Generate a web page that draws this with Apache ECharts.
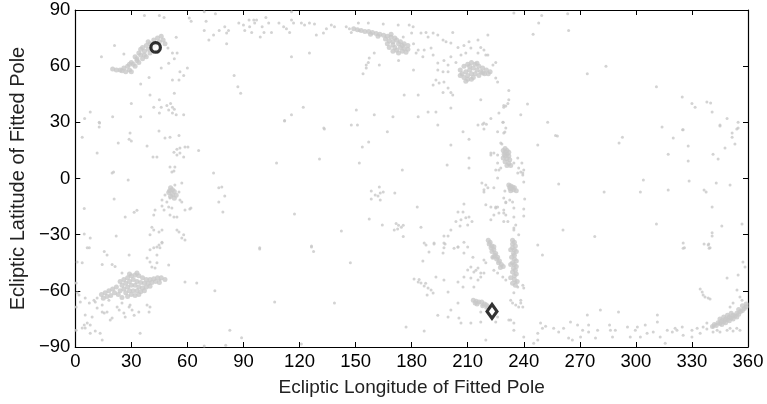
<!DOCTYPE html>
<html>
<head>
<meta charset="utf-8">
<script src="https://cdn.jsdelivr.net/npm/echarts@6/dist/echarts.min.js"></script>
<style>
  html, body { margin: 0; padding: 0; background: #fff; }
  #chart { width: 767px; height: 404px; }
</style>
</head>
<body>
<div id="chart"></div>
<script>
// fitted poles, [longitude, latitude] in degrees
var northPoles = [
  [21,71],[14,65],[26,66.5],[39.5,54],[35,50.5],[46,59],[50,61.5],[53,64],[54.5,67],[54,75.5],[56,57],[60,59],[58,55],[55.5,52.6],[52,52.6],[49.6,69.7],[52,67],
  [53,45.6],[45,42],[46,38],[42,38],[50,36.6],[54,34],[45,35],[58,34],[40,44.6],[35,33],[30,40],[20,33],[13,29.6],[5,32],[8,35.5],[52,38],[51,40],[53,37],[49,39],[52,35],
  [37,87],[45,87],[47.5,86],[61,85.7],[62,84],[69,89],[75,88],[70,84],[69,79],[74,76.6],[77,79],[80,81],[82,79],[81,77.7],[87.5,83],[90,82],[93,84.7],[93.3,81],[95.5,84.7],[96,83],[90.7,79],[94.4,78],[71.5,74],[81,72],[85,55],[87,49],[88.5,45.6],
  [97,84.7],[102,86],[103.5,83],[100,81],[101,78],[99,75.6],[105,78],[109,83],[111.5,81],[113,80],[114.7,78],[115.7,84.7],[116.8,83],[115.7,89],[121,83],[122.7,82],[125.3,83],[128,82.5],[129,76.6],[132.8,77.7],[134.4,80],[137,82],[138.7,81],[145,81],[146.7,80],[147.7,78],[151.5,83],[152,79],[156.8,83],[164.8,82.5],
  [172.8,82],[178.7,82],[180.8,81],[180,77.7],[175.5,75.6],[181,72],[183.5,68.6],[182.4,67],[173,63],[160,67],[157.3,64.4],[156.8,62],[155.7,60.6],[155.7,59],[154,56],[162.7,60.6],[181,58],[115.7,65],[125.3,67],
  [122,38],[115.7,34],[112,31],[150.4,36.6],[160,34],[147.7,28.6],[151,28.6],[133,27],[170,33],[183.5,33],[188.8,35.5],[176,44.6],[183.5,44.6],[193,35.5],[201,37.6],[194,28.6],
  [185,77.7],[187.7,78],[188.8,75.6],[191.5,77.7],[194,76.6],[196.8,74],[198.4,73],[201,72.4],[202,78],[204.8,70],[208,71],[210.7,73],[215.5,74],[220.8,76.6],[217,70],[218.7,68.6],[220.8,66],[225,62],[223.5,60.6],
  [186.7,68.6],[190.4,69.7],[186,65],[191.5,66],[194,61.7],[197.3,63],[199.5,60.6],[201,65],[203.7,62],[206.4,66],[209,67],[211.7,69.7],[215.5,67],[219.7,66],
  [194,58],[196.8,57],[199.5,57],[193,52.6],[194.7,51],[197.3,51.5],[199.5,48.3],[201,46],[191.5,50],[196.8,46],[202,44.6],[217,42],[225,53.7],[226,51.5],
  [232,47],[231.5,40],[229.3,38],[226.7,35],[222.4,32],[218.7,29.6],[215.5,28.6],
  [234.7,88.4],[249.6,87],[248,83],[245,77],[263.5,88],[264,79],[274,56],[284,60],[311,49],[324.8,43.5],[330,40],[331.7,38],[338,40.8],[340,40.3],[340.8,35.5],[348.8,32],[345,28],[354.7,30],[354.7,27],
  [232,42],[230.4,38.7],[242,39.8],[238.4,34],[252.8,30],[229,30],[314,27.5],[325,26],
  [3.7,22],[12.8,27.5],[12.8,30],[11.7,13.6],[19.7,3],[20.5,3.5],[23,19],[29.3,24.3],[28.8,21],[30,20],[38.4,17.4],[44.8,25.4],[41.6,11.5],[43.7,11.5],[48,21.6],[50.7,22],[55.5,23],
  [52.8,14],[54.4,15.6],[56,16.3],[58.7,16.8],[60.3,16.8],[58,11.5],[54.4,12.6],[56,13.6],[66,15],[50.7,6.1],[53.3,6.1],[51.7,3.5],[52.8,4],[74,3],
  [112,30.7],[133.3,26.4],[167,25],[157,19.5],[153.6,16.8],[107.7,8.3],[130.7,10.4],[152,8.3],[175,4.5],
  [201,17.9],[199,7.2],[207.5,25],[210.7,21],[210.7,11],[210.7,5.6],[218,29],[220,29],[218.7,26.4],[226,25],[228.8,30],[222.4,13.6],[226,12.6],[228.3,18.4],[226.7,4.5],[226,0.3],
  [229.3,39],[230.4,27],[229.3,24.3],[229.9,24.8],[227.7,18.9],[224,13.6],[222.4,12.6],[226,8.3],[225,4.5],[227.7,5.6],[234.7,8.3],[237.3,5.6],[238.4,3.5],[239.5,1.9],
  [257,23],[258,22.7],[247.5,17.9],[292.8,22],[291,19],[317.3,13],[320,21.6],[325.3,26],[328,17.4],[328,9.3],[341.3,13],[344,10.4],[345,28.6],[347.7,16.3],[353,18.4],[351.5,24.3],[351.5,22],[354,26.4],
  [236.8,11],[239,8.3],[240,4.5],[236.8,2.9],[239.5,2.9]
];

var southPoles = [
  [28.3,-0.8],[20.8,-11],[4.8,-16],[26.7,-20.6],[31.5,-18],[33,-17],[21.9,-30.7],[4.8,-29.6],[8,-31.8],[7.5,-37],
  [53.3,-3.5],[57,-2.4],[55.5,-7.2],[56,-11.5],[57,-12.6],[48,-8.8],[46.4,-11.5],[49,-12.6],[50.7,-10.4],[50,-15.2],[46.4,-14.7],[51.7,-15.8],[58.7,-16.8],[61.3,-16.3],[61.9,-15.8],
  [42.7,-16.8],[42,-19.5],[47.5,-16.8],[50.7,-19.5],[52.8,-20.6],[54.4,-20.6],
  [41,-26],[42,-27.5],[44.8,-28.6],[46.4,-27.5],[54.4,-27.5],[55.5,-28.6],[58,-30],[57,-31.8],[58.7,-32.8],[40,-30],[43.7,-36.6],[45.3,-37],[46.4,-34.5],
  [76.8,-5],[78.4,-4.5],[80,-9.3],[76.8,-12.6],[79,-17.9],
  [158.4,-6.7],[160.5,-8.8],[162,-9.3],[163.2,-7.7],[164.8,-7.2],[158.4,-11],[163.2,-11.5],[162.7,-4.5],[171,-7.7],[117.3,-19],[157.3,-21.6],[142.4,-28],[164.3,-24.8],
  [171.7,-24],[173,-25],[174.5,-26],[172.5,-27],[175.5,-25],[175.5,-31],[170.7,-27.5],[185,-26],[183,-15.2],[98.7,-37],[126.4,-36.6],
  [224,-5],[218.7,-7.2],[217.6,-2.4],[219.7,-3.5],[219.7,-14],[222.4,-15.2],[225,-15.2],[208,-13.6],[204.8,-17.9],[207.5,-17.9],[203.7,-23],[206.4,-22],[209,-21],[210.7,-20.6],[212.3,-23],
  [201,-27.5],[205.9,-25.4],[210,-24.8],[197.3,-30.7],[199.5,-30.7],[187.7,-35.5],[192,-34.5],[197.9,-35],[204.8,-36.6],[208,-34],[210,-36.6],
  [218.7,-6],[220.8,-5],[229.3,-10.4],[230.4,-12.6],[225,-15.8],[226,-15.2],[224,-19.5],[226.7,-18.4],[229.3,-16.8],[230.4,-19.5],[222.4,-22],[234,-12.6],[234.7,-15.8],[229.3,-23],[234.7,-26.4],
  [223.5,-42],[219.7,-45],[218.7,-50.5],[224,-49],[226,-50.5],[228.8,-52.6],[230.4,-54.2],
  [235.7,-55.3],[236.8,-58],[239.5,-57],[240,-58.5],[234.7,-61],[234,-66.5],[238.4,-65],[237.3,-68.6],
  [213.3,-58],[215.5,-54.2],[217,-52.6],[211.7,-47.3],[214.4,-49],
  [226,-74],[232,-75.6],[234.7,-81],[240,-84.7],[247.5,-82.6],[247.5,-86.3],[245.3,-88],[219.7,-86.3],
  [258.7,-3],[261,-27.5],[278,-31],[247.5,-35.5],[283,-7.2],[302.4,-7.2],[304,-0.8],[311,-24.3],[317.3,-6.2],[328.5,-1.4],[325.3,-34.5],[336.5,-6.2],[337.6,-7.2],[343,-2.4],[350.4,-3.5],
  [340.8,-15.2],[346,-25.4],[356.8,-24.3],[340.8,-29],[340.8,-30.7],[336.5,-35],[339,-35],[339.7,-37],[326,-37],
  [240,-1.9],[240.5,-11],[240,-16.3],[240,-20],[237.3,-30],[234.7,-27.5],[235.7,-24.8],[231.5,-23],[234.7,-20.6],[229.3,-18.4],[230.4,-13],[232.5,-11.5],[229.9,-6.7],
  [1,-44.6],[3.7,-45],[6.4,-37],[15.5,-39],[17,-40.8],[14.4,-46],[19.7,-46],[21.3,-47],[28.8,-40.8],[25,-50.5],[40,-38],[42,-37],[43.7,-40.8],[44.8,-35.5],[46.4,-34],
  [38.4,-42.5],[40,-44.6],[41,-47.3],[43.7,-45],[42.7,-47.8],[50,-46.2],[45.3,-54.2],[58.7,-55.3],[65,-55.8],[74.7,-60],
  [2,-62.2],[2.7,-66],[5.3,-63.8],[7.5,-66.5],[10,-65],[10.7,-66],[11.7,-63.8],[11.7,-69.2],[14.4,-67.6],[14.4,-71.3],[15.5,-71.8],[17,-71.3],[18.7,-75.6],[19.7,-74.5],[18,-65],
  [22.4,-68.6],[23.5,-70.2],[25,-66.5],[26,-71.8],[26.7,-74],[28.8,-68.6],[29.3,-67.6],[30.4,-70.2],[31.5,-73],[34,-71.3],[38.4,-67.6],[39.5,-71.3],[40,-68.6],
  [5.3,-72.9],[9,-74],[6.4,-77.2],[4.8,-78.3],[3.7,-79.9],[5.3,-79.9],[8,-78.3],[10.7,-81.5],[8,-82.6],[13.3,-82.6],[34.7,-82.6],[14.4,-86.3],
  [0.5,-55.8],[1,-61],[0.5,-68.6],[0.5,-81],[82.7,-81],[89,-85],[69,-89.5],[80.5,-89],
  [98.7,-37.7],[126.4,-36],[127.5,-39],[147.2,-45],[106.7,-66],[138.7,-66.5],[177,-79.3],[186.7,-81.5],[121,-88.4],
  [181.3,-53.7],[183.5,-55.3],[185,-55.8],[186.7,-57.4],[188.8,-58.5],[190.4,-59.6],[191.5,-61.2],[188.3,-62.2],[184,-54],[187.5,-56],
  [186.7,-34.5],[192,-35],[197.3,-34.5],[197.3,-37],[196.8,-39.8],[189.3,-39.3],[186,-44],[193,-52.6],
  [197.3,-54.2],[199.5,-60.6],[201,-70.2],[194,-73],[199.5,-74],[204.8,-66.5],[205.3,-74.5],[206.4,-77.2],[208,-52.6],[211.7,-53.2],[204.8,-55.3],[207.5,-58],[210,-48.9],[213.3,-49.9],[215.5,-47.8],[217,-50.5],
  [218.7,-43.5],[212.8,-42],[208,-39.8],[204.8,-36.6],[202.7,-37.2],
  [218,-67.6],[219.7,-69.2],[217,-71.3],[220.8,-71.3],[211.7,-77.2],[217,-76.6],[225,-76.6],
  [233,-65],[235.7,-67.6],[238.4,-66.5],[239.5,-68.6],[233,-75.6],[234.7,-77.2],[250,-40.8],
  [249,-77.2],[250,-80],[251.7,-78.9],[256,-80],[258.7,-82],[261.3,-80],[264,-85.2],[266,-86.3],[265,-76.6],[268.8,-78.3],[271.5,-81],[274.7,-78.3],[274.7,-82],[270.4,-84.7],[278.4,-85.2],[279.5,-81],
  [274,-72.9],[281,-70.2],[285.9,-78.3],[286.4,-81],[289,-81],[290.7,-71.3],[287.5,-84.7],[295.5,-79.3],[297,-84.7],[299.7,-81],[300.8,-79.3],[302.4,-84.7],[305,-78.3],[306,-82.6],
  [311.5,-72.9],[311.5,-76.6],[309.3,-82],[313,-84.7],[316.8,-81],[319.5,-82],[321,-80],[322,-81],[324.8,-79.3],[325.3,-83.7],[330,-81],[332.8,-80],[334.4,-82.6],[336,-79.3],[338,-77.2],[341.3,-79.3],[330,-84.7],[315.7,-88],
  [335.5,-60.6],[336,-62.2],[337,-63.3],[338.7,-63.8],[339.7,-64.4],[334.4,-59],
  [357.3,-44.6],[358.4,-47.3],[354.7,-51.5],[348.8,-53.2],[354.1,-59.6],[355.7,-63.3],[356.8,-65],[352,-66.5],[350.4,-68.6],[358.4,-69.2],[338.7,-35.5],[339.2,-37.2],[325.3,-37.2],
  [355.7,-81],[354,-80],[352,-81.5],[350.4,-80],[348.8,-81],[345,-82],[343.5,-81],[341.3,-82],[338,-80.4]
];

// dense clumps of poles
var clumpPoles = [
  // near the circled pole
  [46,76],[44,75],[42,74],[45,73],[40,72],[43,72],[38,71],[41,70],[36,70],[39,69],[44,68],[37,68],[34,67],[40,67],[35,66],[32,65],[38,65],[36,64],[33,63],[30,62],
  [34,62],[31,61],[28,60],[32,60],[26,59],[29,58],[24,58],[27,57],[30,57],[25,57.5],[35,69],[42,71],[39,73],[47,74],[48,72],[37,66],[33,64],[29,61],[22,58],[20,58.5],
  // lon 150-178 north streak
  [149,80],[151,79.5],[153,79],[155,78.5],[157,78.5],[159,78],[161,77.5],[163,77],[165,76.5],[167,76],[169,75.5],[171,75],[166,74.5],[168,73.5],[170,73],[172,74],[174,73],
  [167,72],[170,71.5],[173,72],[175,71],[171,70],[174,70],[176,69.5],[178,69],[172,68.5],[175,68],[177,67.5],[173,67],[170,68],[168,70],[176,72],[169,77],[162,76],[158,77],[178,71],
  // lon 205-222 north blob
  [206,58],[208,60],[210,61],[212,62],[214,61],[216,60],[218,59],[220,58],[222,57],[207,56],[209,57],[211,58],[213,59],[215,58],[217,57],[219,56],[208,54],[210,55],
  [212,56],[214,56],[216,55],[210,53],[212,53],[209,52],[213,54],[215,61.5],[211,60],[218,56.5],[221,56],[206,55],
  // column near lon 230
  [229,15],[230,14],[231,13],[230,12],[232,12],[229,11],[231,10.5],[232.5,10],[230,9],[232,8],[233,7],[231,7],[230,16],[231,15],[229.5,13],[232,14],
  [232,-3.5],[233,-4],[234,-4.5],[235,-5],[233,-5.5],[234.5,-6],[236,-6.5],[233,-6.5],[232.5,-5],
  [51,-5],[52,-6],[53,-7],[50,-7.5],[52,-8.5],[54,-9],[51,-9.5],[53,-10.5],[50.5,-6.5],
  [234,-33],[235,-34],[234,-35],[235.5,-36],[234,-37],[235,-38],[236,-39],[234.5,-40],[235,-41],[233.5,-42],[235,-43],[236,-44],[234,-45],[235,-46],[236,-47],
  [234.5,-48],[235.5,-49],[234,-50],[236,-51],[235,-52],[233,-53],[235,-54],[236.5,-55],[234,-56],[235.5,-57],[233,-46],[233,-38],
  [221,-33],[222,-34],[221.5,-35],[223,-36],[222.5,-37],[224,-38],[223,-39],[225,-40],[224.5,-41],[226,-42],[225.5,-43],[227,-44],[226.5,-45],[228,-46],[229,-47],[227.5,-47.5],[224,-36.5],[223.5,-42],
  [213,-65],[214.5,-65.5],[216,-66],[217.5,-66],[219,-67],[220,-67.5],[215,-67],[218,-68],[221,-68.5],[214,-66.5],
  // south blob near lon 30
  [24,-55],[26,-54],[28,-53],[30,-52],[32,-51.5],[34,-52],[36,-53],[38,-54],[40,-54],[42,-53.5],[44,-53],[46,-53],[48,-54],[25,-57],[27,-56],[29,-55],[31,-54],[33,-55],
  [35,-55.5],[37,-56],[39,-56],[41,-55.5],[43,-55],[45,-55.5],[26,-59],[28,-58],[30,-57],[32,-57],[34,-58],[36,-58.5],[38,-58],[40,-57.5],[27,-61],[29,-60],[31,-60],
  [33,-60],[35,-60.5],[37,-60],[30,-62],[32,-62.5],[34,-62],[28,-63],[29,-51],[33,-50.5],[24,-60],[22,-58],[20,-59],[18,-60],[16,-61],[14,-62],[21,-61],[19,-62.5],[17,-63],[23,-62],[25,-63.5],[15,-64],
  // south streak near lon 350
  [341,-79],[342,-78],[343,-78.5],[344,-77],[345,-77.5],[346,-76],[347,-76.5],[348,-75],[349,-75.5],[350,-74],[351,-74.5],[352,-73],[353,-73.5],[354,-72],[355,-72.5],
  [356,-71],[357,-70.5],[358,-69.5],[359,-68.5],[345,-75],[347,-74],[349,-73],[351,-72],[350,-76],[352,-75],[354,-74],[346,-78],[348,-77],[355,-70],[357,-68],[359,-67]
];

var circlePole = [[43, 70]];
var diamondPole = [[223, -71]];

var fontName = 'Liberation Sans, Arial, Helvetica, sans-serif';

function minusLabel(v) {
    return v < 0 ? '\u2212' + Math.abs(v) : String(v);
}

var chart = echarts.init(document.getElementById('chart'), null, { renderer: 'canvas' });

var greyDots = {
    type: 'scatter',
    symbol: 'circle',
    symbolSize: 3,
    itemStyle: { color: '#c8c8c8' },
    silent: true,
    animation: false,
    xAxisIndex: 0,
    yAxisIndex: 0
};

var boxLine = { onZero: false, lineStyle: { color: '#000', width: 1.2 } };
var boxTick = { inside: true, length: 5, lineStyle: { color: '#000' } };

var option = {
    animation: false,
    backgroundColor: '#fff',
    grid: { left: 73, right: 19, top: 10, bottom: 57 },
    xAxis: [
        {
            type: 'value', min: 0, max: 360, interval: 30,
            name: 'Ecliptic Longitude of Fitted Pole',
            nameLocation: 'middle', nameGap: 31,
            nameTextStyle: { fontFamily: fontName, fontSize: 19, color: '#222' },
            axisLine: boxLine,
            axisTick: boxTick,
            axisLabel: { fontFamily: fontName, fontSize: 18.5, color: '#000', margin: 5 },
            splitLine: { show: false }
        },
        {
            type: 'value', min: 0, max: 360, interval: 30, position: 'top',
            axisLine: boxLine,
            axisTick: boxTick,
            axisLabel: { show: false },
            splitLine: { show: false }
        }
    ],
    yAxis: [
        {
            type: 'value', min: -90, max: 90, interval: 30,
            name: 'Ecliptic Latitude of Fitted Pole',
            nameLocation: 'middle', nameGap: 42,
            nameTextStyle: { fontFamily: fontName, fontSize: 20, color: '#222' },
            axisLine: boxLine,
            axisTick: boxTick,
            axisLabel: { fontFamily: fontName, fontSize: 18.5, color: '#000', margin: 5, formatter: minusLabel },
            splitLine: { show: false }
        },
        {
            type: 'value', min: -90, max: 90, interval: 30, position: 'right',
            axisLine: boxLine,
            axisTick: boxTick,
            axisLabel: { show: false },
            splitLine: { show: false }
        }
    ],
    series: [
        Object.assign({}, greyDots, { name: 'north', data: northPoles }),
        Object.assign({}, greyDots, { name: 'south', data: southPoles }),
        Object.assign({}, greyDots, { name: 'clumps', data: clumpPoles, symbolSize: 5 }),
        {
            type: 'scatter', name: 'circle', data: circlePole,
            symbol: 'circle', symbolSize: 9.5, z: 5,
            itemStyle: { color: '#fff', borderColor: '#000', borderWidth: 3.2 }
        },
        {
            type: 'scatter', name: 'diamond', data: diamondPole,
            symbol: 'diamond', symbolSize: [10, 14], z: 5,
            itemStyle: { color: '#fff', borderColor: '#000', borderWidth: 3.2 }
        }
    ]
};

chart.setOption(option);
</script>
</body>
</html>
